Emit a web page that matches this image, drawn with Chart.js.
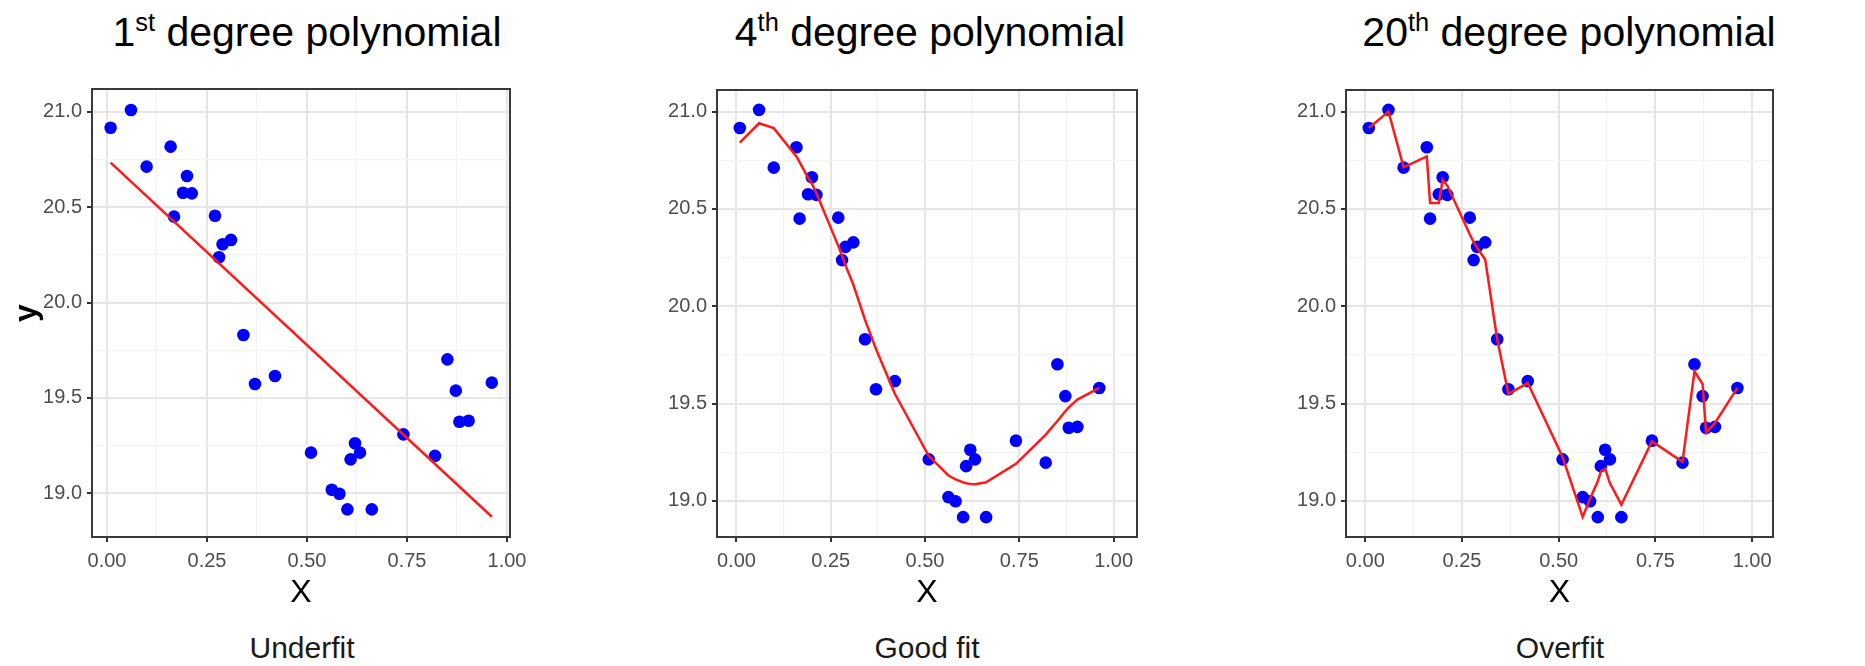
<!doctype html>
<html>

<head>
	<title>Polynomial fits</title>
	<script src="https://cdn.jsdelivr.net/npm/chart.js@4.4.1/dist/chart.umd.min.js"></script>
	<style>
	body {
		margin: 0;
		background: #fff;
		width: 1865px;
		height: 666px;
		overflow: hidden;
		position: relative;
		font-family: "Liberation Sans", Arial, sans-serif;
	}
	canvas {
		position: absolute;
		top: 0;
	}
	.title {
		position: absolute;
		top: 12px;
		width: 600px;
		text-align: center;
		font-size: 41px;
		line-height: 41px;
		color: #000;
		white-space: nowrap;
	}
	.title sup {
		font-size: 0.62em;
		position: relative;
		top: -15px;
		vertical-align: baseline;
		line-height: 0;
	}
	.note {
		position: absolute;
		top: 633px;
		width: 400px;
		text-align: center;
		font-size: 30px;
		line-height: 30px;
		color: #1a1a1a;
	}
	</style>
</head>

<body>
	<div class="title" style="left:7px">1<sup>st</sup> degree polynomial</div>
	<div class="title" style="left:630px">4<sup>th</sup> degree polynomial</div>
	<div class="title" style="left:1269px">20<sup>th</sup> degree polynomial</div>

	<canvas id="c1" width="530" height="620" style="left:0px"></canvas>
	<canvas id="c2" width="520" height="620" style="left:640px"></canvas>
	<canvas id="c3" width="595" height="620" style="left:1270px"></canvas>

	<div class="note" style="left:102px">Underfit</div>
	<div class="note" style="left:727px">Good fit</div>
	<div class="note" style="left:1360px">Overfit</div>

	<script>
		// observations (sorted by x)
		var xValues = [0.009, 0.06, 0.099, 0.159, 0.1675, 0.19, 0.2, 0.212, 0.27, 0.28,
			0.289, 0.31, 0.341, 0.37, 0.42, 0.51, 0.562, 0.581, 0.601, 0.609,
			0.62, 0.6325, 0.662, 0.741, 0.82, 0.851, 0.872, 0.881, 0.904, 0.962];
		var yValues = [20.916, 21.009, 20.712, 20.817, 20.45, 20.575, 20.663, 20.572, 20.455, 20.237,
			20.305, 20.328, 19.83, 19.573, 19.615, 19.213, 19.019, 18.998, 18.916, 19.178,
			19.262, 19.213, 18.916, 19.309, 19.196, 19.702, 19.538, 19.375, 19.38, 19.58];

		// fitted curves
		var fit1X = [0.009, 0.962];
		var fit1Y = [20.733, 18.877];
		var fit4Y = [20.84, 20.94, 20.915, 20.77, 20.74, 20.66, 20.63, 20.58, 20.31, 20.26,
			20.21, 20.11, 19.93, 19.78, 19.55, 19.23, 19.13, 19.11, 19.095, 19.09,
			19.087, 19.085, 19.095, 19.19, 19.34, 19.41, 19.46, 19.48, 19.52, 19.58];
		var fit20Y = [20.916, 21.0, 20.714, 20.77, 20.53, 20.53, 20.65, 20.62, 20.37, 20.33,
			20.30, 20.24, 19.83, 19.55, 19.605, 19.225, 18.917, 19.01, 19.10, 19.15,
			19.165, 19.09, 18.98, 19.305, 19.2, 19.665, 19.60, 19.35, 19.40, 19.58];

		// axes
		var xMajor = [0, 0.25, 0.5, 0.75, 1];
		var xTickLabels = ['0.00', '0.25', '0.50', '0.75', '1.00'];
		var xMinor = [0.125, 0.375, 0.625, 0.875];
		var yMajor = [19, 19.5, 20, 20.5, 21];
		var yTickLabels = ['19.0', '19.5', '20.0', '20.5', '21.0'];
		var yMinor = [19.25, 19.75, 20.25, 20.75];

		var FONT = '"Liberation Sans", Arial, sans-serif';

		function pairs(xs, ys) {
			return xs.map(function(x, i) {
				return {x: x, y: ys[i]};
			});
		}

		function findIndex(list, v) {
			for (var i = 0; i < list.length; i++) {
				if (Math.abs(list[i] - v) < 1e-9) return i;
			}
			return -1;
		}

		var borderPlugin = {
			id: 'panelBorder',
			afterDraw: function(chart) {
				var a = chart.chartArea;
				var ctx = chart.ctx;
				ctx.save();
				ctx.strokeStyle = '#3a3a3a';
				ctx.lineWidth = 2;
				ctx.strokeRect(a.left, a.top, a.right - a.left, a.bottom - a.top);
				ctx.restore();
			}
		};

		function axis(major, minor, labels, extra) {
			var cfg = {
				type: 'linear',
				bounds: 'data',
				min: extra.min,
				max: extra.max,
				border: {display: false},
				afterBuildTicks: function(scale) {
					scale.ticks = major.concat(minor).map(function(v) {
						return {value: v};
					});
				},
				grid: {
					color: function(c) {
						return findIndex(major, c.tick.value) >= 0 ? '#e6e6e6' : '#f3f3f3';
					},
					lineWidth: function(c) {
						return findIndex(major, c.tick.value) >= 0 ? 2 : 1.2;
					},
					tickColor: function(c) {
						return findIndex(major, c.tick.value) >= 0 ? '#333333' : 'rgba(0,0,0,0)';
					},
					tickWidth: 2,
					tickLength: 5
				},
				ticks: {
					autoSkip: false,
					maxRotation: 0,
					padding: extra.padding,
					color: '#4d4d4d',
					font: {family: FONT, size: 20},
					callback: function(value) {
						var i = findIndex(major, value);
						return i >= 0 ? labels[i] : '';
					}
				},
				afterFit: extra.afterFit
			};
			if (extra.title) cfg.title = extra.title;
			return cfg;
		}

		function makePanel(id, p) {
			var ctx = document.getElementById(id).getContext('2d');
			new Chart(ctx, {
				type: 'scatter',
				data: {
					datasets: [{
						data: p.fit,
						showLine: true,
						borderColor: '#ff1a1a',
						borderWidth: 2.5,
						pointRadius: 0,
						tension: 0,
						fill: false
					}, {
						data: pairs(xValues, yValues),
						backgroundColor: '#0000ff',
						borderWidth: 0,
						pointRadius: 6.3,
						pointHoverRadius: 6.3
					}]
				},
				options: {
					responsive: false,
					animation: false,
					devicePixelRatio: 1,
					layout: {padding: {top: p.top, right: p.right, left: 0, bottom: 0}},
					plugins: {
						legend: {display: false},
						tooltip: {enabled: false}
					},
					scales: {
						x: axis(xMajor, xMinor, xTickLabels, {
							min: p.xMin,
							max: p.xMax,
							padding: 7,
							afterFit: function(s) { s.height = 83; },
							title: {
								display: true,
								text: 'X',
								color: '#000',
								font: {family: FONT, size: 32, lineHeight: 1},
								padding: {top: 0, bottom: 11}
							}
						}),
						y: axis(yMajor, yMinor, yTickLabels, {
							min: p.yMin,
							max: p.yMax,
							padding: 5,
							afterFit: function(s) { s.width = p.yWidth; },
							title: p.yTitle ? {
								display: true,
								text: 'y',
								color: '#000',
								font: {family: FONT, size: 32, weight: 'bold', lineHeight: 1},
								padding: {top: 11, bottom: 0}
							} : {display: false}
						})
					}
				},
				plugins: [borderPlugin]
			});
		}

		window.onload = function() {
			makePanel('c1', {
				fit: pairs(fit1X, fit1Y),
				top: 89, right: 20, yWidth: 92, yTitle: true,
				xMin: -0.0375, xMax: 1.0075, yMin: 18.771, yMax: 21.119
			});
			makePanel('c2', {
				fit: pairs(xValues, fit4Y),
				top: 90, right: 23, yWidth: 77, yTitle: false,
				xMin: -0.0515, xMax: 1.062, yMin: 18.814, yMax: 21.111
			});
			makePanel('c3', {
				fit: pairs(xValues, fit20Y),
				top: 90, right: 92, yWidth: 76, yTitle: false,
				xMin: -0.0499, xMax: 1.054, yMin: 18.814, yMax: 21.111
			});
		};
	</script>
</body>

</html>
